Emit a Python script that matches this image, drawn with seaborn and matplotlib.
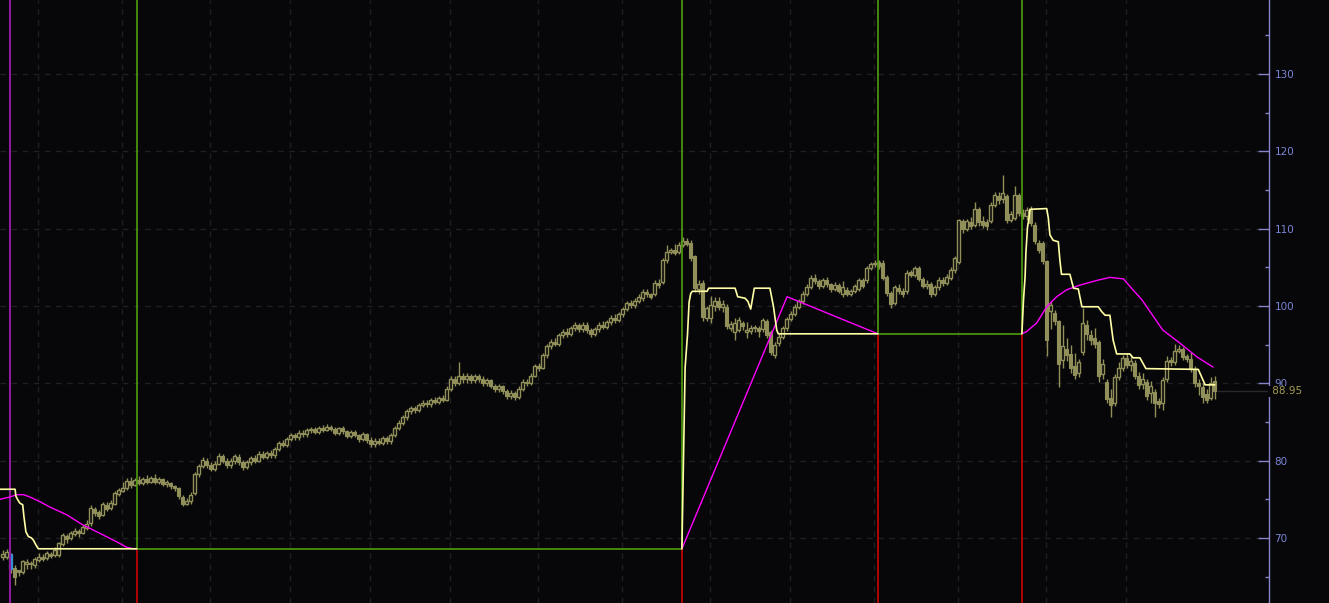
import numpy as np
import pandas as pd
import matplotlib
matplotlib.use('Agg')
import matplotlib.pyplot as plt
import matplotlib.transforms as mtransforms
import seaborn as sns

# ---- daily candles (index 0 = first visible bar) ----
opens = [
    67.6, 67.6, 67.9, 66.1, 65.8, 65.6, 66.6, 66.8, 66.5, 67.2,
    67.5, 67.4, 67.9, 67.8, 67.8, 69.2, 70.3, 70.0, 70.5, 70.9,
    70.7, 71.3, 71.9, 73.8, 73.3, 73.0, 74.3, 73.9, 74.4, 75.7,
    76.1, 76.4, 77.4, 76.9, 77.5, 77.1, 77.6, 77.3, 77.8, 77.3,
    77.6, 77.0, 77.1, 76.7, 76.4, 75.3, 74.4, 74.8, 75.8, 78.3,
    79.3, 80.0, 79.5, 78.9, 79.6, 80.6, 80.0, 79.4, 79.9, 80.5,
    79.8, 79.2, 79.8, 80.3, 80.0, 80.9, 80.5, 81.0, 80.7, 81.5,
    82.3, 82.0, 82.8, 83.3, 83.0, 83.6, 83.4, 83.9, 84.1, 83.7,
    84.2, 84.0, 84.4, 84.1, 83.6, 84.2, 83.8, 83.2, 83.7, 83.3,
    82.8, 83.4, 82.7, 82.1, 82.6, 82.3, 82.9, 82.5, 83.3, 84.2,
    84.9, 85.6, 86.4, 86.8, 86.5, 87.2, 87.5, 87.3, 87.8, 87.6,
    88.1, 87.9, 89.3, 90.6, 90.1, 91.0, 90.5, 91.0, 90.4, 90.9,
    90.6, 90.0, 90.4, 89.7, 89.3, 89.6, 89.0, 88.4, 88.8, 88.2,
    89.3, 90.2, 90.0, 91.0, 92.2, 92.0, 93.6, 94.8, 95.4, 95.1,
    96.2, 96.7, 96.4, 97.1, 97.5, 97.0, 97.6, 96.9, 96.4, 97.0,
    97.6, 97.3, 97.9, 98.5, 98.2, 98.9, 99.6, 100.4, 100.1, 100.7,
    101.0, 101.8, 101.5, 101.6, 103.0, 103.1, 105.9, 107.0, 107.3, 107.0,
    107.9, 108.4, 108.2, 106.4, 102.2, 103.0, 98.4, 98.4, 100.0, 100.7,
    99.9, 99.9, 97.2, 96.7, 96.9, 97.8, 96.6, 96.8, 97.3, 97.1,
    97.0, 98.0, 96.6, 93.6, 95.2, 96.0, 97.1, 98.3, 99.0, 99.9,
    100.6, 101.6, 102.5, 103.6, 103.2, 102.6, 103.3, 102.8, 102.2, 102.7,
    101.6, 102.1, 101.6, 102.0, 102.2, 103.3, 103.3, 104.9, 105.4, 105.7,
    105.6, 103.8, 101.7, 100.4, 102.3, 102.0, 101.9, 104.4, 104.0, 104.9,
    103.5, 102.6, 102.9, 101.6, 102.4, 103.4, 103.0, 103.6, 104.6, 105.7,
    111.0, 110.0, 110.9, 110.5, 112.5, 111.0, 110.9, 111.0, 113.1, 114.2,
    113.8, 114.2, 111.1, 111.4, 114.3, 112.0, 111.6, 112.4, 110.5, 108.2,
    108.1, 105.8, 99.3, 99.1, 98.0, 93.0, 94.5, 93.8, 92.3, 91.3,
    94.0, 97.5, 96.3, 95.8, 95.3, 91.2, 90.2, 88.1, 87.5, 90.8,
    92.0, 93.3, 92.4, 92.6, 91.0, 89.9, 90.2, 88.7, 88.9, 87.7,
    87.4, 90.5, 93.0, 92.7, 94.2, 94.4, 93.5, 93.1, 91.8, 90.1,
    89.5, 88.6, 88.1, 90.3,
]
highs = [
    68.5, 68.6, 68.1, 66.5, 65.9, 67.2, 67.3, 67.0, 67.6, 68.0,
    67.9, 68.3, 68.2, 68.8, 69.5, 70.6, 70.5, 70.9, 71.3, 71.2,
    71.7, 72.3, 74.2, 74.0, 73.6, 74.6, 74.7, 74.9, 76.1, 76.5,
    77.3, 77.8, 77.9, 77.8, 78.0, 77.9, 78.1, 78.0, 78.3, 77.9,
    77.8, 77.5, 77.3, 76.9, 76.6, 75.5, 75.2, 75.9, 78.5, 79.6,
    80.5, 80.3, 79.8, 79.9, 81.0, 80.9, 80.3, 80.3, 80.9, 80.8,
    80.1, 80.1, 80.6, 80.7, 81.2, 81.2, 81.3, 81.4, 81.8, 82.6,
    82.7, 83.1, 83.6, 83.6, 83.9, 84.0, 84.2, 84.4, 84.3, 84.5,
    84.6, 84.7, 84.6, 84.3, 84.4, 84.5, 84.0, 84.0, 84.0, 83.5,
    83.7, 83.6, 83.0, 82.9, 82.9, 83.2, 83.2, 83.6, 84.5, 85.2,
    85.9, 86.7, 87.1, 87.1, 87.5, 87.8, 87.9, 88.1, 88.2, 88.4,
    88.5, 89.6, 91.0, 91.0, 92.8, 91.3, 91.3, 91.2, 91.2, 91.2,
    90.9, 90.7, 90.6, 89.9, 89.9, 89.8, 89.2, 89.1, 89.0, 89.6,
    90.5, 90.6, 91.3, 92.5, 92.6, 93.9, 95.1, 95.7, 95.9, 96.5,
    97.0, 97.2, 97.4, 97.9, 97.8, 97.9, 97.9, 97.2, 97.3, 97.9,
    98.0, 98.2, 98.8, 98.9, 99.2, 99.9, 100.7, 100.8, 101.0, 101.5,
    102.2, 102.2, 101.7, 103.3, 103.5, 106.2, 107.9, 107.5, 108.0, 108.3,
    108.9, 108.8, 108.5, 106.6, 103.4, 103.3, 100.0, 101.3, 101.1, 101.1,
    100.8, 100.2, 98.0, 98.5, 98.6, 98.0, 97.9, 97.5, 97.6, 97.4,
    98.5, 98.3, 96.9, 95.3, 96.4, 97.4, 98.6, 99.4, 100.2, 100.9,
    101.9, 102.8, 104.0, 104.1, 103.5, 103.6, 103.7, 103.0, 103.1, 103.0,
    103.2, 102.4, 102.2, 102.9, 103.6, 103.6, 105.2, 105.7, 105.9, 106.0,
    105.9, 104.0, 101.9, 102.7, 102.9, 102.3, 104.6, 104.7, 105.2, 105.2,
    103.8, 103.3, 103.1, 102.7, 103.7, 103.8, 104.1, 105.0, 106.5, 111.3,
    111.3, 111.3, 111.5, 113.5, 112.8, 111.6, 111.3, 113.4, 114.7, 114.8,
    117.0, 114.5, 112.3, 115.5, 114.6, 112.6, 112.8, 112.9, 110.8, 108.5,
    108.4, 106.0, 100.6, 99.5, 98.2, 97.6, 95.8, 95.0, 93.9, 93.2,
    99.7, 98.2, 96.9, 97.2, 95.6, 93.2, 90.6, 89.2, 91.2, 92.7,
    93.7, 93.9, 93.5, 93.0, 91.5, 91.3, 90.6, 90.3, 89.3, 88.1,
    90.8, 93.5, 93.4, 95.1, 95.0, 94.7, 93.8, 94.0, 92.2, 90.5,
    90.0, 89.3, 90.8, 90.9,
]
lows = [
    67.1, 67.3, 65.5, 63.9, 65.1, 65.4, 66.0, 66.0, 66.1, 66.9,
    67.0, 67.1, 67.4, 67.6, 67.5, 69.0, 69.4, 69.8, 70.2, 70.1,
    70.5, 71.0, 71.6, 72.8, 72.4, 72.8, 73.5, 73.6, 74.2, 75.4,
    75.9, 76.2, 76.5, 76.7, 76.8, 76.8, 77.0, 77.1, 77.0, 77.0,
    76.7, 76.6, 76.3, 76.1, 75.1, 74.1, 74.2, 74.4, 75.6, 77.9,
    79.0, 79.0, 78.6, 78.6, 79.4, 79.7, 79.1, 79.1, 79.6, 79.5,
    78.8, 78.9, 79.5, 79.7, 79.8, 80.2, 80.2, 80.4, 80.4, 81.2,
    81.7, 81.8, 82.5, 82.7, 82.7, 83.1, 83.1, 83.6, 83.4, 83.5,
    83.7, 83.8, 83.8, 83.3, 83.3, 83.5, 82.9, 82.9, 83.0, 82.4,
    82.5, 82.3, 81.7, 81.8, 82.0, 82.0, 82.2, 82.2, 83.0, 83.9,
    84.6, 85.3, 86.0, 86.2, 86.3, 86.9, 87.0, 87.0, 87.3, 87.3,
    87.6, 87.7, 89.0, 89.7, 89.8, 90.1, 90.1, 90.0, 90.1, 90.2,
    89.7, 89.6, 89.4, 88.9, 88.9, 88.6, 88.0, 88.0, 87.8, 88.0,
    89.0, 89.7, 89.8, 90.8, 91.6, 91.8, 93.3, 94.5, 94.8, 94.8,
    95.9, 96.0, 96.1, 96.8, 96.6, 96.7, 96.5, 96.0, 96.1, 96.7,
    97.0, 97.0, 97.6, 97.8, 97.9, 98.6, 99.3, 99.8, 99.8, 100.4,
    100.7, 101.2, 100.9, 101.3, 102.3, 102.9, 105.6, 106.7, 106.6, 106.7,
    107.6, 107.7, 105.8, 101.8, 101.5, 98.0, 98.1, 97.8, 99.4, 99.5,
    99.2, 97.0, 96.8, 95.6, 96.6, 96.9, 95.9, 96.4, 96.7, 96.0,
    96.7, 95.8, 93.6, 93.3, 94.8, 95.7, 96.8, 98.0, 98.7, 99.6,
    100.3, 101.3, 102.2, 102.8, 102.2, 102.3, 102.5, 101.8, 101.9, 101.7,
    101.1, 101.3, 101.3, 101.7, 101.9, 102.3, 103.0, 104.6, 105.1, 104.8,
    103.3, 101.3, 99.8, 100.1, 101.6, 101.2, 101.6, 103.7, 103.7, 103.2,
    102.3, 102.2, 101.2, 101.3, 102.1, 102.6, 102.7, 103.3, 104.3, 105.4,
    109.5, 109.7, 110.0, 110.2, 110.4, 110.1, 109.8, 110.7, 112.8, 113.2,
    113.3, 110.7, 110.8, 111.1, 111.6, 111.3, 111.1, 110.4, 108.0, 106.9,
    105.4, 93.5, 97.0, 97.5, 89.5, 92.0, 92.9, 91.3, 90.6, 90.8,
    93.6, 95.6, 95.0, 94.6, 90.2, 90.6, 87.4, 85.7, 87.1, 90.4,
    91.6, 92.0, 91.6, 90.6, 89.2, 89.3, 87.9, 87.5, 85.7, 86.8,
    86.6, 90.2, 92.3, 92.4, 93.9, 93.0, 92.7, 91.4, 89.5, 88.5,
    87.5, 87.4, 87.8, 88.0,
]
closes = [
    67.9, 68.2, 66.0, 64.9, 65.6, 67.0, 66.9, 66.6, 67.3, 67.6,
    67.3, 68.0, 67.7, 68.4, 69.3, 70.4, 69.9, 70.6, 70.9, 70.6,
    71.4, 71.8, 73.9, 73.2, 72.9, 74.4, 73.8, 74.5, 75.8, 76.2,
    76.4, 77.4, 76.9, 77.5, 77.1, 77.6, 77.3, 77.8, 77.3, 77.6,
    77.0, 77.2, 76.7, 76.5, 75.4, 74.4, 74.8, 75.6, 78.3, 79.3,
    80.1, 79.4, 78.9, 79.6, 80.6, 80.0, 79.4, 79.9, 80.6, 79.8,
    79.2, 79.8, 80.3, 80.0, 80.9, 80.5, 81.0, 80.7, 81.5, 82.3,
    82.0, 82.8, 83.3, 83.0, 83.6, 83.4, 83.9, 84.1, 83.7, 84.2,
    84.0, 84.4, 84.1, 83.6, 84.2, 83.8, 83.2, 83.7, 83.3, 82.8,
    83.4, 82.7, 82.1, 82.6, 82.3, 82.9, 82.5, 83.3, 84.2, 84.9,
    85.6, 86.4, 86.8, 86.5, 87.2, 87.5, 87.3, 87.8, 87.6, 88.1,
    87.9, 89.3, 90.6, 90.1, 91.0, 90.5, 91.0, 90.4, 90.9, 90.6,
    90.0, 90.4, 89.7, 89.3, 89.6, 89.0, 88.4, 88.8, 88.2, 89.3,
    90.2, 90.0, 91.0, 92.2, 92.0, 93.6, 94.8, 95.4, 95.1, 96.2,
    96.7, 96.4, 97.1, 97.5, 97.0, 97.6, 96.9, 96.4, 97.0, 97.6,
    97.3, 97.9, 98.5, 98.2, 98.9, 99.6, 100.4, 100.1, 100.7, 101.2,
    101.8, 101.5, 101.2, 103.0, 102.7, 105.9, 107.0, 107.2, 106.9, 107.9,
    108.4, 108.0, 106.2, 102.3, 102.8, 98.6, 99.7, 100.1, 100.7, 99.9,
    100.3, 97.4, 97.7, 97.8, 98.2, 97.4, 96.9, 97.2, 97.1, 96.8,
    98.2, 96.3, 94.0, 95.0, 96.0, 97.1, 98.3, 99.0, 99.9, 100.6,
    101.6, 102.5, 103.6, 103.2, 102.6, 103.3, 102.8, 102.2, 102.7, 102.0,
    102.5, 101.6, 101.9, 102.6, 103.3, 102.6, 104.9, 105.4, 105.6, 105.2,
    103.6, 101.7, 100.2, 102.4, 102.0, 101.6, 104.3, 104.0, 104.9, 103.5,
    102.6, 102.9, 101.6, 102.4, 103.4, 103.0, 103.8, 104.7, 106.2, 111.1,
    109.9, 111.0, 110.3, 112.5, 110.9, 110.5, 110.3, 113.1, 114.3, 113.7,
    114.6, 111.1, 111.9, 114.4, 112.0, 111.7, 112.4, 110.7, 108.4, 107.3,
    105.8, 95.6, 100.1, 98.1, 92.5, 94.8, 93.6, 92.0, 91.1, 92.8,
    97.8, 96.4, 95.6, 95.1, 91.0, 92.5, 88.0, 87.2, 90.8, 92.0,
    93.3, 92.4, 92.9, 91.0, 89.8, 90.6, 88.4, 89.7, 87.5, 87.3,
    90.4, 92.9, 92.7, 94.2, 94.5, 93.4, 93.1, 91.8, 90.0, 89.7,
    88.2, 87.9, 90.1, 88.95,
]
highlight_bar = 2
last_price = 88.95

# ---- indicator lines (bar index, price) ----
yellow_x = [
    [-0.7, 3.1, 3.3, 3.8, 4.3, 5.0, 5.3, 5.8, 6.4, 7.2, 7.7, 8.3, 8.9, 33.5],
    [169.8, 170.6, 171.2, 171.6, 172.0, 172.4, 176.1, 176.5, 183.1, 183.75,
     185.6, 186.3, 187.0, 187.9, 191.8, 192.7, 193.5, 193.9, 218.8],
    [254.8, 255.2, 255.6, 255.8, 256.2, 256.5, 256.8, 261.0, 261.4, 261.8,
     262.6, 263.9, 264.3, 264.7, 266.8, 267.7, 268.9, 269.8, 273.9, 274.7,
     275.6, 276.8, 277.6, 278.5, 281.8, 282.6, 284.3, 285.8, 298.9, 300.6, 303.0],
]
yellow_y = [
    [76.3, 76.3, 75.4, 74.9, 74.5, 74.3, 72.8, 70.8, 70.2, 70.0, 69.7, 69.1, 68.6, 68.6],
    [68.6, 92.0, 96.3, 100.5, 101.6, 101.9, 101.9, 102.3, 102.3, 101.2,
     101.0, 100.6, 99.6, 102.3, 102.3, 99.9, 96.9, 96.4, 96.4],
    [96.4, 100.8, 103.8, 106.9, 110.2, 111.1, 112.5, 112.6, 111.4, 109.2,
     108.5, 108.3, 105.9, 104.1, 104.1, 102.3, 102.2, 99.9, 99.9, 99.3,
     98.8, 98.8, 95.6, 93.8, 93.8, 93.3, 93.3, 91.9, 91.8, 89.8, 89.8],
]
magenta_x = [
    [-0.7, 1.8, 3.5, 5.2, 6.8, 9.3, 11.8, 16.0, 20.0, 24.3, 28.5, 31.0, 32.6, 33.5],
    [169.8, 196.1, 218.8],
    [254.8, 256.0, 258.5, 261.0, 263.5, 266.0, 269.3, 273.5, 276.8, 280.2,
     282.2, 284.8, 286.8, 290.0, 294.3, 298.6, 302.6],
]
magenta_y = [
    [75.0, 75.3, 75.6, 75.6, 75.3, 74.7, 74.0, 73.0, 71.7, 70.6, 69.5, 68.8, 68.6, 68.6],
    [68.6, 101.2, 96.4],
    [96.4, 96.7, 97.8, 99.9, 101.2, 102.1, 102.7, 103.3, 103.7, 103.5,
     102.3, 100.8, 99.3, 96.9, 95.2, 93.4, 92.1],
]

# signal bars: green above the level, red below
signal_x = [33.5, 169.8, 218.8, 254.8]
signal_level = [68.6, 68.6, 96.4, 96.4]
marker_x = 1.8
month_starts = [8.8, 29.8, 51.8, 71.8, 91.8, 111.8, 133.8, 154.8, 176.8, 196.8,
                217.8, 238.8, 260.8, 280.8]
price_ticks = [70, 80, 90, 100, 110, 120, 130]
price_minor = [65, 75, 85, 95, 105, 115, 125, 135]

bg = '#070709'
olive = '#92905a'
axis_col = '#8484c8'
label_col = '#7b86d6'
green = '#4e9e0c'
red = '#d00000'
yellow = '#ffffa6'
magenta = '#ff00ff'
grid_col = '#202023'

sns.set_theme(style='dark', rc={'axes.facecolor': bg, 'figure.facecolor': bg,
                                'savefig.facecolor': bg})
plt.rcParams['font.family'] = ['DejaVu Sans']

fig = plt.figure(figsize=(13.29, 6.03), dpi=100)
ax = fig.add_axes([0, 0, 1269 / 1329, 1])
ax.set_facecolor(bg)

ymin, ymax = 61.59, 139.57
xmin, xmax = -0.675, 316.575

# grid
ax.vlines(month_starts, ymin, ymax, colors=grid_col, linewidth=1, linestyles=(0, (4, 4)), zorder=0.5)
ax.hlines(price_ticks, xmin, xmax, colors=grid_col, linewidth=1, linestyles=(0, (4, 4)), zorder=0.5)

# candles
o = np.array(opens)
c = np.array(closes)
h = np.array(highs)
l = np.array(lows)
idx = np.arange(len(c))
up = c >= o
bottom = np.minimum(o, c)
height = np.maximum(np.abs(c - o), 0.15)
ax.vlines(idx, l, h, colors=olive, linewidth=1.0, zorder=2)
ax.bar(idx[~up], height[~up], bottom=bottom[~up], width=0.78, color=olive,
       edgecolor=olive, linewidth=0.8, zorder=3)
ax.bar(idx[up], height[up], bottom=bottom[up], width=0.78, facecolor=bg,
       edgecolor=olive, linewidth=1.0, zorder=3)
ax.bar([highlight_bar], [height[highlight_bar]], bottom=[bottom[highlight_bar]], width=0.78,
       color='#3592d4', edgecolor='#3592d4', linewidth=0.8, zorder=3.1)

# signal lines
ax.axvline(marker_x, color='#8c1c9c', linewidth=1.5, zorder=4)
for sx, lv in zip(signal_x, signal_level):
    ax.vlines(sx, lv, ymax, colors=green, linewidth=1.2, zorder=4)
    ax.vlines(sx, ymin, lv, colors=red, linewidth=1.2, zorder=4)
ax.hlines(signal_level[0], signal_x[0], signal_x[1], colors=green, linewidth=1.2, zorder=4)
ax.hlines(signal_level[2], signal_x[2], signal_x[3], colors=green, linewidth=1.2, zorder=4)


def seg_frame(xs, ys):
    rows = []
    for k, (sx, sy) in enumerate(zip(xs, ys)):
        for a, b in zip(sx, sy):
            rows.append({'x': a, 'y': b, 'seg': k})
    return pd.DataFrame(rows)


sns.lineplot(data=seg_frame(magenta_x, magenta_y), x='x', y='y', units='seg',
             estimator=None, sort=False, color=magenta, linewidth=1.0, ax=ax,
             legend=False, zorder=5)
sns.lineplot(data=seg_frame(yellow_x, yellow_y), x='x', y='y', units='seg',
             estimator=None, sort=False, color=yellow, linewidth=1.2, ax=ax,
             legend=False, zorder=6)

# last price line
ax.hlines(last_price, idx[-1] + 0.5, xmax, colors='#2a2a2a', linewidth=1, zorder=1)

ax.set_xlim(xmin, xmax)
ax.set_ylim(ymin, ymax)
ax.set_xlabel('')
ax.set_ylabel('')
ax.grid(False)
ax.set_xticks([])
ax.yaxis.tick_right()
ax.set_yticks(price_ticks)
ax.set_yticks(price_minor, minor=True)
ax.tick_params(axis='y', which='major', direction='in', length=8, width=1,
               color=axis_col, labelcolor=label_col, labelsize=7.5, pad=4)
ax.tick_params(axis='y', which='minor', direction='in', length=3, width=1, color=axis_col)
for side in ['left', 'top', 'bottom']:
    ax.spines[side].set_visible(False)
ax.spines['right'].set_color(axis_col)
ax.spines['right'].set_linewidth(1)

trans = mtransforms.blended_transform_factory(ax.transAxes, ax.transData)
ax.text(1.0, 140, '  140', transform=trans, color=label_col, fontsize=7.5,
        va='center', ha='left', clip_on=False)
ax.text(1.0, last_price, ' 88.95', transform=trans, color='#a19c52', fontsize=7.5,
        va='center', ha='left', clip_on=False,
        bbox=dict(facecolor=bg, edgecolor='none', pad=0.5))

fig.savefig('out.png', dpi=100, facecolor=bg)
